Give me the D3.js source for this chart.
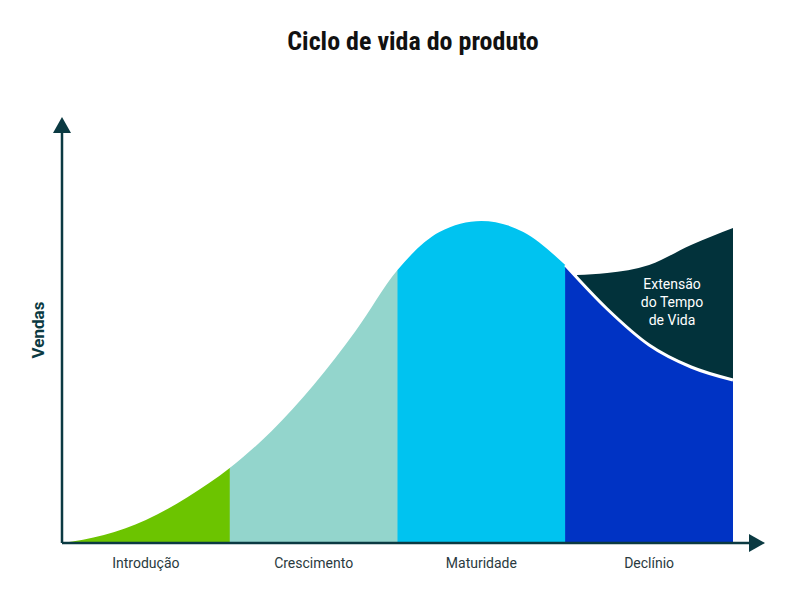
<!DOCTYPE html><html><head><meta charset="utf-8"><script src="https://cdn.jsdelivr.net/npm/d3@7"></script>
<style>body{margin:0;background:#fff}</style></head><body><svg id="c" width="792" height="594"></svg>
<script>
const stages=["Introdução","Crescimento","Maturidade","Declínio"];
const stageColors=["#6cc400","#93d5cc","#00c3f0","#0033c4"];
const curveX=[0,0.25,0.5,0.75,1,1.25,1.5,1.75,2,2.25,2.5,2.75,3,3.25,3.5,3.75,4];
const curveY=[0,2,5.75,11.5,18.75,28,39.5,53,68.25,77.75,80.5,77.75,69.5,58.5,49.5,44,40.75];
const extX=[3.07,3.25,3.5,3.75,4];
const extY=[67,67.5,69.5,74.5,78.75];
const svg=d3.select("#c");
const x=d3.scaleLinear().domain([0,4]).range([62,733]);
const y=d3.scaleLinear().domain([0,100]).range([543,143]);
const pts=curveX.map((d,i)=>[d,curveY[i]]);
const area=d3.area().x(d=>x(d[0])).y0(y(0)).y1(d=>y(d[1])).curve(d3.curveMonotoneX);
const defs=svg.append("defs");
stages.forEach((s,i)=>{
 defs.append("clipPath").attr("id","cl"+i).append("rect").attr("x",x(i)).attr("y",0).attr("width",x(i+1)-x(i)+(i==3?0:0.5)).attr("height",594);
 svg.append("path").datum(pts).attr("d",area).attr("fill",stageColors[i]).attr("clip-path",`url(#cl${i})`);
});
// extension
const line=d3.line().x(d=>x(d[0])).y(d=>y(d[1])).curve(d3.curveMonotoneX);
const declPts=pts.filter(d=>d[0]>=3);
const upper=extX.map((d,i)=>[d,extY[i]]);
const lowerPath=line(declPts);
const upPath=line(upper.slice().reverse());
// build polygon: upper reversed (from 4 to 3.07) then decline curve from 3 to 4
svg.append("path").attr("d",line(upper)+"L"+x(4)+","+y(40.75)+lowerPath.replace(/^M/,"L").split("").join("")).attr("fill","none");
const ext=[...upper,...declPts.slice().reverse()];
defs.append("clipPath").attr("id","ce").append("path").attr("d",area(upper)); 
svg.append("path").attr("d",d3.area().x(d=>x(d[0])).y0(y(0)).y1(d=>y(d[1])).curve(d3.curveMonotoneX)(upper)).attr("fill","#02323b");
svg.append("path").datum(declPts).attr("d",area).attr("fill","#0033c4").attr("clip-path","url(#cl3)");
svg.append("path").datum(declPts).attr("d",line).attr("fill","none").attr("stroke","#fff").attr("stroke-width",3);
svg.append("text").attr("x",672).attr("y",289).attr("text-anchor","middle").attr("fill","#fff").attr("font-family","Roboto").attr("font-size",14)
 .selectAll("tspan").data(["Extensão","do Tempo","de Vida"]).join("tspan").attr("x",672).attr("dy",(d,i)=>i?18:0).text(d=>d);
// axes
const ax="#0b3a42";
svg.append("line").attr("x1",62).attr("y1",543).attr("x2",752).attr("y2",543).attr("stroke",ax).attr("stroke-width",2.5);
svg.append("line").attr("x1",62).attr("y1",543).attr("x2",62).attr("y2",132).attr("stroke",ax).attr("stroke-width",2.5);
svg.append("path").attr("d","M53,133L62,117L71,133Z").attr("fill",ax);
svg.append("path").attr("d","M749,534L765,543L749,552Z").attr("fill",ax);
const xa=d3.scaleBand().domain(stages).range([62,733]);
svg.selectAll(".xl").data(stages).join("text").attr("x",d=>xa(d)+xa.bandwidth()/2).attr("y",568).attr("text-anchor","middle")
 .attr("font-family","Roboto").attr("font-size",14).attr("fill","#2a3a40").text(d=>d);
svg.append("text").attr("transform","translate(44,330) rotate(-90)").attr("text-anchor","middle").attr("font-family","Roboto")
 .attr("font-weight",700).attr("font-size",17).attr("fill",ax).text("Vendas");
svg.append("text").attr("x",413).attr("y",50).attr("text-anchor","middle").attr("font-family","Roboto").attr("font-weight",700)
 .attr("font-size",26).attr("fill","#111").attr("style","font-stretch:condensed").text("Ciclo de vida do produto");
</script></body></html>
